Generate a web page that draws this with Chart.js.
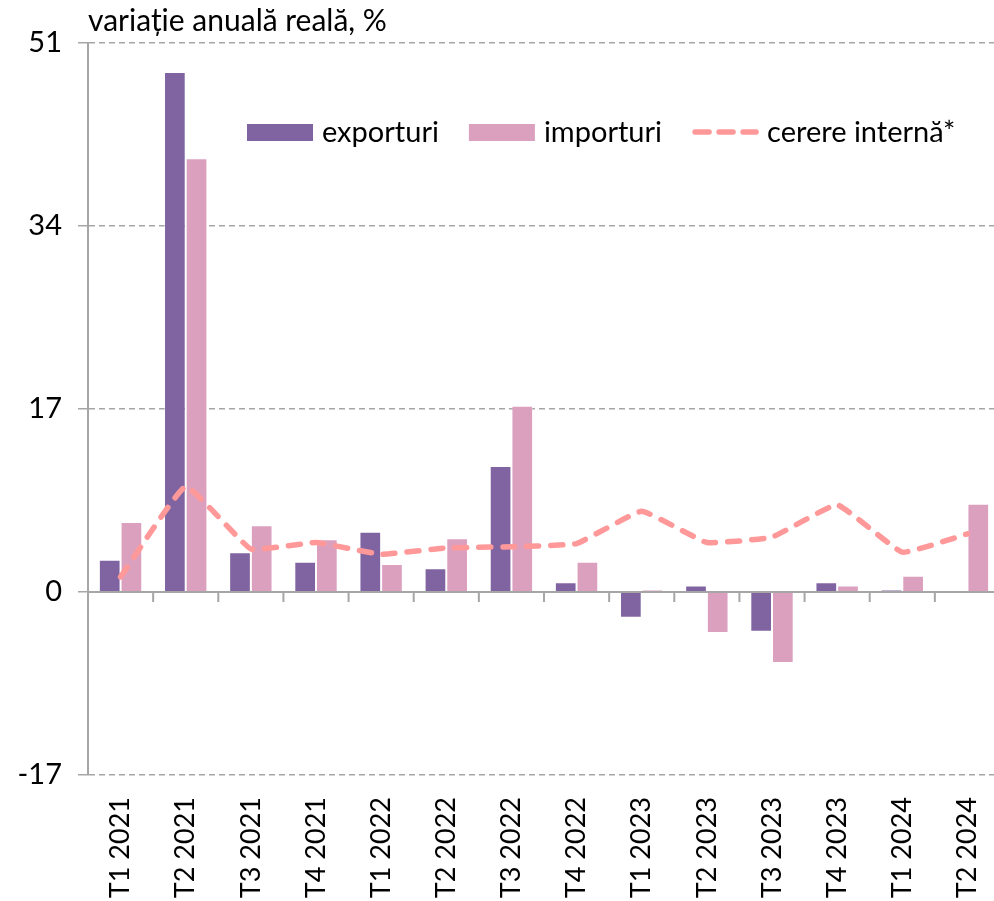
<!DOCTYPE html>
<html>
<head>
<meta charset="utf-8">
<script src="https://cdn.jsdelivr.net/npm/chart.js@4"></script>
<style>
  html, body { margin: 0; padding: 0; background: #fff; overflow: hidden; }
</style>
</head>
<body>
<canvas id="myChart" width="1000" height="901"></canvas>
<script>
const categories = ["T1 2021", "T2 2021", "T3 2021", "T4 2021", "T1 2022", "T2 2022", "T3 2022",
  "T4 2022", "T1 2023", "T2 2023", "T3 2023", "T4 2023", "T1 2024", "T2 2024"];
const exporturi = [3.0, 48.3, 3.7, 2.8, 5.6, 2.2, 11.7, 0.9, -2.4, 0.6, -3.7, 0.9, 0.2, 0.1];
const importuri = [6.5, 40.3, 6.2, 4.9, 2.6, 5.0, 17.3, 2.8, 0.2, -3.8, -6.6, 0.6, 1.5, 8.2];
const cerereInterna = [1.4, 9.8, 4.0, 4.6, 3.5, 4.1, 4.2, 4.5, 7.5, 4.6, 5.1, 8.1, 3.7, 5.4];
const yTicks = [-17, 0, 17, 34, 51];

const FONT = "Lato";
const GRAY = "#a6a6a6";

// axis line at 0 with small ticks between the quarters
const zeroAxis = {
  id: "zeroAxis",
  afterDatasetsDraw(chart) {
    const ctx = chart.ctx;
    const x = chart.scales.x;
    const y0 = chart.scales.y.getPixelForValue(0);
    const area = chart.chartArea;
    ctx.save();
    ctx.strokeStyle = GRAY;
    ctx.lineWidth = 2;
    ctx.beginPath();
    ctx.moveTo(area.left, y0);
    ctx.lineTo(area.right, y0);
    for (let i = 1; i < categories.length; i++) {
      let bx = (x.getPixelForValue(i - 1) + x.getPixelForValue(i)) / 2;
      ctx.moveTo(bx, y0);
      ctx.lineTo(bx, y0 + 10);
    }
    ctx.stroke();
    ctx.restore();
  }
};

// legend inside the plot
const innerLegend = {
  id: "innerLegend",
  afterDraw(chart) {
    const ctx = chart.ctx;
    let cx = 247;
    const cy = 132;
    ctx.save();
    ctx.font = "29px " + FONT;
    ctx.textBaseline = "middle";
    chart.data.datasets.forEach(ds => {
      if (ds.type === "line") {
        ctx.strokeStyle = ds.borderColor;
        ctx.lineWidth = ds.borderWidth;
        ctx.lineCap = "round";
        ctx.setLineDash([14, 10]);
        ctx.beginPath();
        ctx.moveTo(cx + 3, cy);
        ctx.lineTo(cx + 64, cy);
        ctx.stroke();
        ctx.setLineDash([]);
      } else {
        ctx.fillStyle = ds.backgroundColor;
        ctx.fillRect(cx, cy - 8, 66, 17);
      }
      ctx.fillStyle = "#000";
      ctx.fillText(ds.label, cx + 75, cy + 1);
      cx += 75 + ctx.measureText(ds.label).width + 30;
    });
    ctx.restore();
  }
};

new Chart(document.getElementById("myChart"), {
  data: {
    labels: categories,
    datasets: [
      {
        type: "bar",
        label: "exporturi",
        data: exporturi,
        backgroundColor: "#8064a2",
        borderColor: "rgba(255,255,255,0.35)",
        borderWidth: 1,
        categoryPercentage: 0.666,
        barPercentage: 1,
        order: 2
      },
      {
        type: "bar",
        label: "importuri",
        data: importuri,
        backgroundColor: "#dca0bf",
        borderColor: "rgba(255,255,255,0.35)",
        borderWidth: 1,
        categoryPercentage: 0.666,
        barPercentage: 1,
        order: 2
      },
      {
        type: "line",
        label: "cerere internă*",
        data: cerereInterna,
        borderColor: "#ff9999",
        borderWidth: 5.5,
        borderDash: [12, 12],
        borderCapStyle: "round",
        borderJoinStyle: "round",
        pointRadius: 0,
        tension: 0.1,
        fill: false,
        order: 0
      }
    ]
  },
  options: {
    responsive: false,
    animation: false,
    devicePixelRatio: 1,
    layout: { padding: 0 },
    plugins: {
      legend: { display: false },
      tooltip: { enabled: false },
      title: {
        display: true,
        text: "variație anuală reală, %",
        align: "start",
        fullSize: false,
        color: "#000",
        font: { family: FONT, size: 30, weight: "normal", lineHeight: 1.2 },
        padding: { top: 3, bottom: 4 }
      }
    },
    scales: {
      x: {
        grid: { display: false },
        border: { display: false },
        ticks: {
          color: "#000",
          font: { family: FONT, size: 27 },
          minRotation: 90,
          maxRotation: 90,
          padding: 14
        },
        afterFit(scale) {
          scale.height = 126;
          scale.paddingLeft = 0;
          scale.paddingRight = 0;
        }
      },
      y: {
        min: -17,
        max: 51,
        afterBuildTicks(scale) { scale.ticks = yTicks.map(v => ({ value: v })); },
        afterFit(scale) { scale.width = 88; },
        grid: {
          color: ctx => (ctx.tick && ctx.tick.value === 0 ? "rgba(0,0,0,0)" : GRAY),
          lineWidth: 1.5,
          tickLength: 10,
          tickColor: GRAY,
          tickWidth: 1.5,
          tickBorderDash: []
        },
        border: { display: true, color: GRAY, width: 2, dash: [6, 4] },
        ticks: {
          color: "#000",
          font: { family: FONT, size: 29 },
          padding: 16
        }
      }
    }
  },
  plugins: [zeroAxis, innerLegend]
});
</script>
</body>
</html>
